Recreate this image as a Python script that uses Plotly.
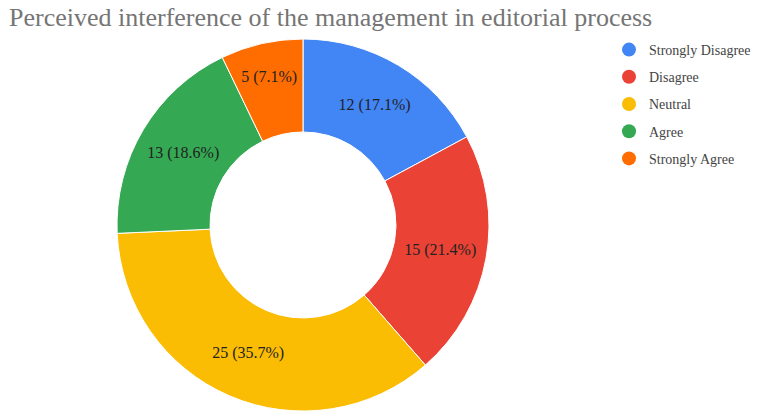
import plotly.graph_objects as go

categories = ["Strongly Disagree", "Disagree", "Neutral", "Agree", "Strongly Agree"]
counts = [12, 15, 25, 13, 5]
colors = ["#4285F4", "#EA4335", "#FBBC04", "#34A853", "#FF6D01"]
title_text = "Perceived interference of the management in editorial process"

W, H = 761, 412
cx, cy, r = 303, 225, 186
SERIF = "Liberation Serif, Times New Roman, serif"

ylo = max(0.0, 1 - (cy + r) / H)
yhi = min(1.0, 1 - (cy - r) / H)

fig = go.Figure()
fig.add_trace(go.Pie(
    labels=categories, values=counts, hole=0.5, sort=False,
    direction="clockwise", rotation=0,
    marker=dict(colors=colors, line=dict(color="white", width=1)),
    texttemplate="%{value} (%{percent:.1%})",
    textposition="inside", insidetextorientation="horizontal",
    textfont=dict(family=SERIF, size=16, color="#222222"),
    showlegend=False, hoverinfo="label+value+percent",
    domain=dict(x=[(cx - r) / W, (cx + r) / W], y=[ylo, yhi]),
))
for name, col in zip(categories, colors):
    fig.add_trace(go.Scatter(
        x=[None], y=[None], mode="markers", name=name, legendgroup=name,
        marker=dict(symbol="circle", size=14, color=col),
    ))

fig.update_layout(
    width=W, height=H,
    margin=dict(l=0, r=0, t=0, b=0),
    paper_bgcolor="white", plot_bgcolor="white",
    font=dict(family=SERIF, color="#444444"),
    title=dict(text=title_text, x=9 / W, xanchor="left", y=1 - 17 / H, yanchor="middle",
               font=dict(family=SERIF, size=26, color="#757575")),
    legend=dict(x=609 / W, y=1 - 34 / H, xanchor="left", yanchor="top",
                font=dict(family=SERIF, size=14, color="#444444"),
                traceorder="grouped", tracegroupgap=6, bgcolor="rgba(0,0,0,0)"),
    xaxis=dict(visible=False), yaxis=dict(visible=False),
)
fig.write_html("out.html", config={"displayModeBar": False},
               post_script="document.body.style.margin='0';")
